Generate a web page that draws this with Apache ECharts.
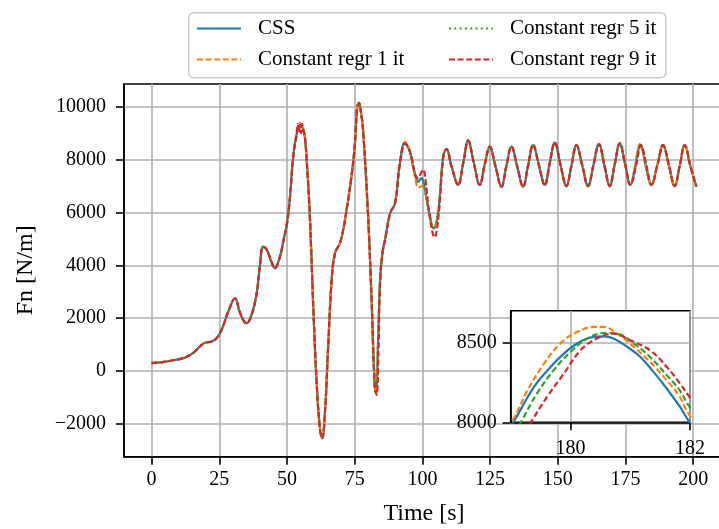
<!DOCTYPE html>
<html>
<head>
<meta charset="utf-8">
<script src="https://cdn.jsdelivr.net/npm/echarts@6/dist/echarts.min.js"></script>
<style>html,body{margin:0;padding:0;background:#fff;}#c{width:719px;height:529px;}</style>
</head>
<body>
<div id="c"></div>
<script>
const seriesNames = ['CSS', 'Constant regr 1 it', 'Constant regr 5 it', 'Constant regr 9 it'];
const seriesColors = ['#1f77b4', '#ff7f0e', '#2ca02c', '#d62728'];
const xTicks = [0, 25, 50, 75, 100, 125, 150, 175, 200];
const yTicks = [-2000, 0, 2000, 4000, 6000, 8000, 10000];
const insetXTicks = [180, 182];
const insetYTicks = [8000, 8500];

// [time s, Fn N/m]
const common = [
[0,300],[4,340],[8,410],[11,470],[13,545],[15.5,700],[18.5,990],[20,1080],[22,1110],[24,1240],[26,1600],[28.5,2300],[30.8,2750],[32.5,2250],[34,1900],[35.1,1810],[36.9,2120],[38.8,2940],[40,4000],[41.2,4700],[42.5,4600],[44,4200],[45.5,3890],[47.4,4330],[48.8,5000],[49.8,5460],[51,6470],[52.3,8110],[53.5,8930],[54.8,9245],[55.8,9200],[56.6,8870],[57.5,7600],[58.4,5970],[59.7,2435],[60.9,-337],[62.2,-2230],[63.0,-2540],[64.0,-1600],[65.2,920],[66.5,3450],[67.7,4450],[69.5,4830],[70.5,5200],[72,6090],[73.8,7350],[75,8490],[75.9,9940],[76.6,10150],[77.3,9800],[78.1,9120],[79.9,5970],[81.2,2810],[82.4,-590],[82.9,-840],[83.6,1000],[84.4,3445],[85.3,4500],[86.2,4960],[88.1,5970],[89.9,6350],[91.7,7860],[93.5,8615],[95.4,8300],[97.2,7480],[98.5,7170],[99.7,7290],[100.5,7100],[102.1,6220],[104.2,5400],[105.8,5970],[107.7,8110],[108.9,8400],[110.8,7730],[113.2,7040],[115.1,7880],[116.9,8715],[119,7880],[121.2,7040],[123,7800],[124.9,8490],[127,7750],[129.2,6975],[131,7750],[132.9,8490],[135,7750],[137.2,6975],[139,7750],[140.9,8550],[143,7800],[145.2,7040],[147,7850],[148.9,8640],[151,7800],[153.2,7000],[155,7750],[156.9,8550],[159,7800],[161.2,7000],[163.2,7800],[165.2,8590],[167.2,7800],[169.2,7000],[171,7800],[172.9,8615],[174.9,7820],[176.8,7040],[184.6,7040],[186.8,7800],[188.9,8550],[191,7800],[193.2,7000],[195,7750],[196.9,8550],[199,7750],[201.2,6975]
];

// per-series details where the curves separate
const cssSegs = [
 [[178.7,7790],[179.06,8010],[179.39,8222],[179.67,8348],[179.89,8431],[180.11,8494],[180.33,8531],[180.56,8539],[180.72,8525],[180.95,8473],[181.17,8410],[181.39,8316],[181.61,8212],[181.83,8098],[181.97,8014],[182.4,7790]]
];
const orangeSegs = [
 [[92.6,8320],[93.5,8680],[94.4,8560]],
 [[97.2,7400],[98.5,6950],[99.6,6980],[100.5,7050],[102.1,6200],[104.2,5400]],
 [[178.65,7800],[179.05,8025],[179.28,8200],[179.56,8369],[179.83,8494],[180.11,8566],[180.39,8598],[180.56,8598],[180.78,8556],[181.06,8473],[181.33,8379],[181.61,8264],[181.83,8160],[181.97,8056],[182.5,7790]]
];
const greenSegs = [
 [[178.85,7790],[179.19,8014],[179.44,8181],[179.72,8327],[180.0,8441],[180.28,8525],[180.56,8560],[180.78,8556],[181.06,8494],[181.33,8410],[181.61,8296],[181.83,8200],[181.99,8098],[182.6,7790]]
];
const redSegs = [
 [[53.5,8930],[54.0,9350],[54.4,9050],[54.8,9400],[55.2,9000],[55.6,9350],[56.0,9100],[56.6,8870]],
 [[82.4,-500],[83.1,-905],[83.8,900]],
 [[97.2,7480],[98.5,7300],[99.5,7500],[100.3,7620],[101.3,7100],[102.5,6000],[104.5,5060],[106,5900]],
 [[179.0,7790],[179.36,8014],[179.61,8160],[179.89,8306],[180.17,8452],[180.44,8525],[180.72,8556],[181.0,8514],[181.33,8452],[181.61,8348],[181.83,8244],[181.99,8160],[182.75,7790]]
];

function build(segs) {
  const out = common.filter(p => !segs.some(s => p[0] >= s[0][0] && p[0] <= s[s.length - 1][0]));
  segs.forEach(s => s.forEach(p => out.push(p)));
  out.sort((a, b) => a[0] - b[0]);
  return out;
}
const seriesData = [build(cssSegs), build(orangeSegs), build(greenSegs), build(redSegs)];

const FONT = 'Liberation Serif';
const mainDash = [null, [6, 2.6], [2, 3.3], [6, 2.6]];
const insetDash = [null, [6, 3], [6, 3], [6, 3]];
const fmt = v => (v < 0 ? '\u2212' + Math.abs(v) : String(v));

const series = [];
seriesNames.forEach((n, i) => {
  series.push({
    name: n, type: 'line', xAxisIndex: 0, yAxisIndex: 0, data: seriesData[i],
    showSymbol: false, symbol: 'none', smooth: 0.4, z: 2 + i,
    lineStyle: { color: seriesColors[i], width: 2.2, type: mainDash[i] || 'solid' },
    itemStyle: { color: seriesColors[i] }
  });
});
seriesNames.forEach((n, i) => {
  series.push({
    name: n, type: 'line', xAxisIndex: 1, yAxisIndex: 1, data: seriesData[i],
    showSymbol: false, symbol: 'none', smooth: 0.4, z: 12 + i,
    lineStyle: { color: seriesColors[i], width: 2.2, type: insetDash[i] || 'solid' },
    itemStyle: { color: seriesColors[i] }
  });
});

const lblStyle = { fontFamily: FONT, fontSize: 20, color: '#000' };
const legendText = { fontFamily: FONT, fontSize: 21, color: '#000', lineHeight: 21, padding: [0, 0, 0, 12] };
const chart = echarts.init(document.getElementById('c'), null, { renderer: 'canvas' });
chart.setOption({
  animation: false,
  backgroundColor: '#fff',
  textStyle: { fontFamily: FONT },
  graphic: [{
    type: 'rect', left: 188, top: 12, z: 1,
    shape: { width: 477, height: 65, r: 5 },
    style: { fill: '#fff', stroke: '#cccccc', lineWidth: 1.5 }
  }],
  legend: [
    { left: 196, top: 18, padding: 0, orient: 'vertical', itemWidth: 44, itemHeight: 14, itemGap: 10, selectedMode: false, z: 5,
      itemStyle: { opacity: 0 },
      data: ['CSS', 'Constant regr 1 it'], textStyle: legendText },
    { left: 448, top: 18, padding: 0, orient: 'vertical', itemWidth: 44, itemHeight: 14, itemGap: 10, selectedMode: false, z: 5,
      itemStyle: { opacity: 0 },
      data: ['Constant regr 5 it', 'Constant regr 9 it'], textStyle: legendText }
  ],
  grid: [
    { left: 124, top: 84, width: 600, height: 372.7, show: true, borderColor: '#000', borderWidth: 1.6, backgroundColor: 'transparent', z: 0,
      containLabel: false, outerBoundsMode: 'none' },
    { left: 510.7, top: 310.7, width: 179.3, height: 111.6, show: true, borderColor: '#000', borderWidth: 1.6, backgroundColor: '#fff', z: 1,
      containLabel: false, outerBoundsMode: 'none' }
  ],
  xAxis: [
    { type: 'value', gridIndex: 0, min: -10.2, max: 211.4, z: 0,
      axisLine: { show: true, onZero: false, lineStyle: { color: '#000', width: 1.6 } },
      axisTick: { show: true, length: 8, customValues: xTicks, lineStyle: { color: '#000', width: 1.6 } },
      axisLabel: Object.assign({ customValues: xTicks, margin: 13, formatter: fmt }, lblStyle),
      splitLine: { show: true, lineStyle: { color: '#b0b0b0', width: 1.6 } },
      name: 'Time [s]', nameLocation: 'middle', nameGap: 45,
      nameTextStyle: { fontFamily: FONT, fontSize: 24, color: '#000' } },
    { type: 'value', gridIndex: 1, min: 179.0, max: 182.0, z: 2,
      axisLine: { show: true, onZero: false, lineStyle: { color: '#000', width: 1.6 } },
      axisTick: { show: true, length: 8, customValues: insetXTicks, lineStyle: { color: '#000', width: 1.6 } },
      axisLabel: Object.assign({ customValues: insetXTicks, margin: 16, formatter: fmt }, lblStyle),
      splitLine: { show: true, lineStyle: { color: '#b0b0b0', width: 1.6 } } }
  ],
  yAxis: [
    { type: 'value', gridIndex: 0, min: -3240, max: 10860, z: 0,
      axisLine: { show: true, onZero: false, lineStyle: { color: '#000', width: 1.6 } },
      axisTick: { show: true, length: 8, customValues: yTicks, lineStyle: { color: '#000', width: 1.6 } },
      axisLabel: Object.assign({ customValues: yTicks, margin: 18, formatter: fmt }, lblStyle),
      splitLine: { show: true, lineStyle: { color: '#b0b0b0', width: 1.6 } },
      name: 'Fn [N/m]', nameLocation: 'middle', nameGap: 86,
      nameTextStyle: { fontFamily: FONT, fontSize: 24, color: '#000' } },
    { type: 'value', gridIndex: 1, min: 8000, max: 8700, z: 2,
      axisLine: { show: true, onZero: false, lineStyle: { color: '#000', width: 1.6 } },
      axisTick: { show: true, length: 8, customValues: insetYTicks, lineStyle: { color: '#000', width: 1.6 } },
      axisLabel: Object.assign({ customValues: insetYTicks, margin: 14, formatter: fmt }, lblStyle),
      splitLine: { show: true, lineStyle: { color: '#b0b0b0', width: 1.6 } } }
  ],
  series: series
});
</script>
</body>
</html>
